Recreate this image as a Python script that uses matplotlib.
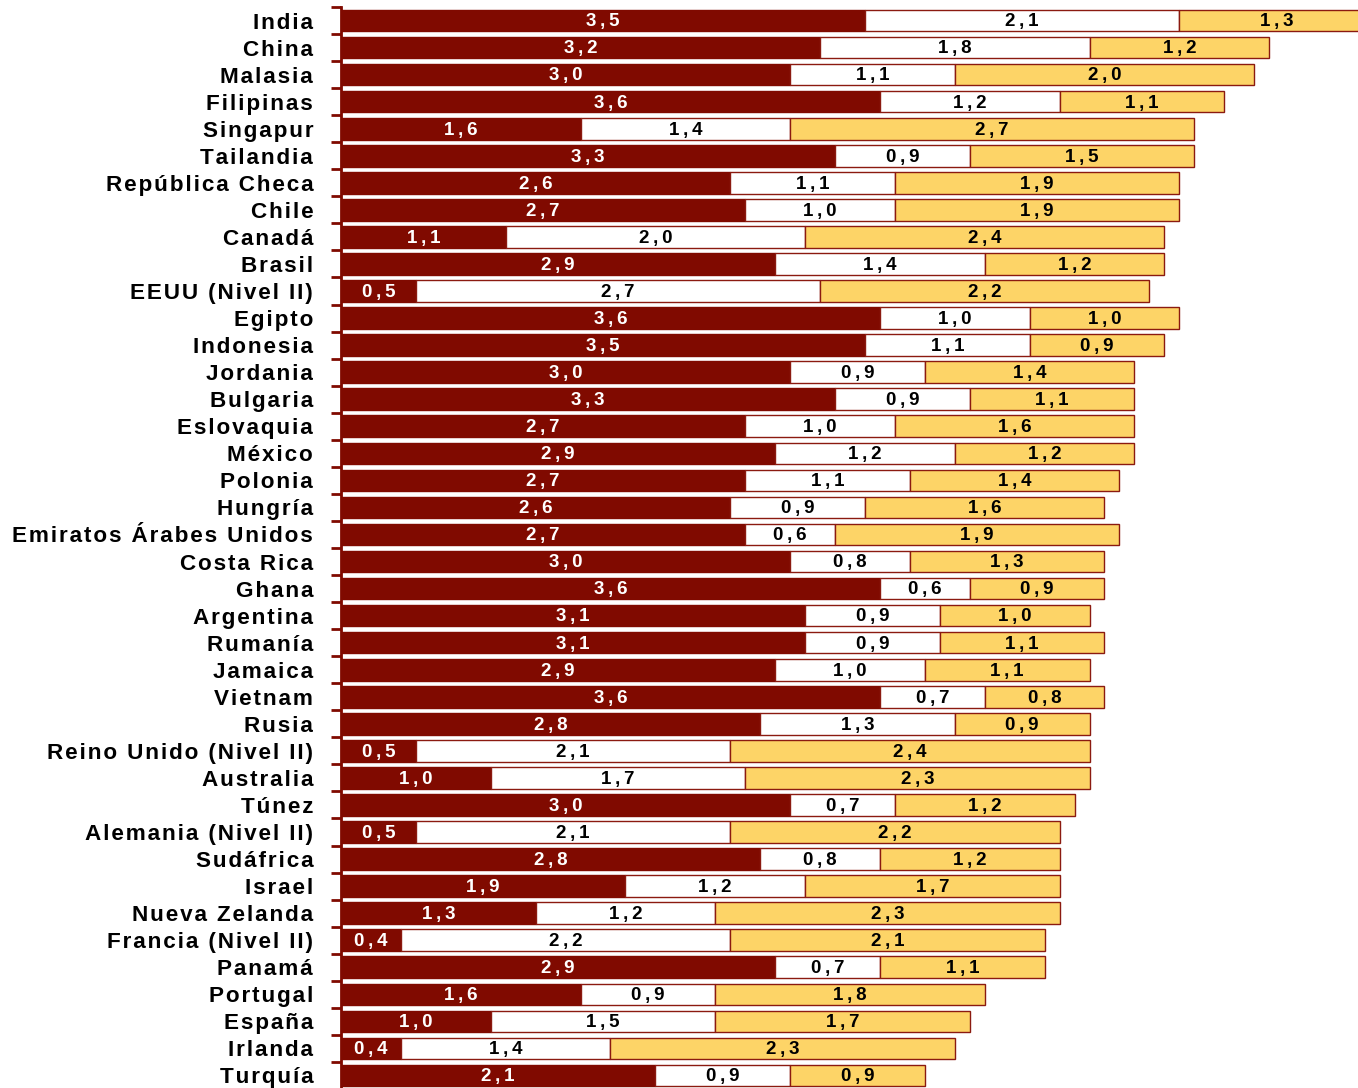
import numpy as np
import matplotlib.pyplot as plt

paises = ['India', 'China', 'Malasia', 'Filipinas', 'Singapur', 'Tailandia',
          'República Checa', 'Chile', 'Canadá', 'Brasil', 'EEUU (Nivel II)',
          'Egipto', 'Indonesia', 'Jordania', 'Bulgaria', 'Eslovaquia', 'México',
          'Polonia', 'Hungría', 'Emiratos Árabes Unidos', 'Costa Rica', 'Ghana',
          'Argentina', 'Rumanía', 'Jamaica', 'Vietnam', 'Rusia',
          'Reino Unido (Nivel II)', 'Australia', 'Túnez', 'Alemania (Nivel II)',
          'Sudáfrica', 'Israel', 'Nueva Zelanda', 'Francia (Nivel II)', 'Panamá',
          'Portugal', 'España', 'Irlanda', 'Turquía']

rojo = [3.5, 3.2, 3.0, 3.6, 1.6, 3.3, 2.6, 2.7, 1.1, 2.9, 0.5, 3.6, 3.5, 3.0,
        3.3, 2.7, 2.9, 2.7, 2.6, 2.7, 3.0, 3.6, 3.1, 3.1, 2.9, 3.6, 2.8, 0.5,
        1.0, 3.0, 0.5, 2.8, 1.9, 1.3, 0.4, 2.9, 1.6, 1.0, 0.4, 2.1]
blanco = [2.1, 1.8, 1.1, 1.2, 1.4, 0.9, 1.1, 1.0, 2.0, 1.4, 2.7, 1.0, 1.1, 0.9,
          0.9, 1.0, 1.2, 1.1, 0.9, 0.6, 0.8, 0.6, 0.9, 0.9, 1.0, 0.7, 1.3, 2.1,
          1.7, 0.7, 2.1, 0.8, 1.2, 1.2, 2.2, 0.7, 0.9, 1.5, 1.4, 0.9]
amarillo = [1.3, 1.2, 2.0, 1.1, 2.7, 1.5, 1.9, 1.9, 2.4, 1.2, 2.2, 1.0, 0.9, 1.4,
            1.1, 1.6, 1.2, 1.4, 1.6, 1.9, 1.3, 0.9, 1.0, 1.1, 1.1, 0.8, 0.9, 2.4,
            2.3, 1.2, 2.2, 1.2, 1.7, 2.3, 2.1, 1.1, 1.8, 1.7, 2.3, 0.9]

ROJO = '#800a00'
AMARILLO = '#fdd467'
BORDE = '#8b1a10'
FUENTE = ['Liberation Sans', 'DejaVu Sans']


def espaciar(s, sep='\u200a'):
    # imita el espaciado entre letras del original
    return sep.join(list(s))


fig = plt.figure(figsize=(13.58, 10.88), dpi=100)
ax = fig.add_axes([341 / 1358, -1 / 1088, 1017 / 1358, 1082 / 1088])

y = np.arange(len(paises))
rojo = np.array(rojo)
blanco = np.array(blanco)
amarillo = np.array(amarillo)

h = 0.8
ax.barh(y, rojo, height=h, color=ROJO, edgecolor=ROJO, linewidth=1)
ax.barh(y, blanco, left=rojo, height=h, color='white', edgecolor=BORDE, linewidth=1)
ax.barh(y, amarillo, left=rojo + blanco, height=h, color=AMARILLO,
        edgecolor=BORDE, linewidth=1)

for i in range(len(paises)):
    segs = [(0, rojo[i], 'white'), (rojo[i], blanco[i], 'black'),
            (rojo[i] + blanco[i], amarillo[i], 'black')]
    for left, w, c in segs:
        txt = espaciar(f'{w:.1f}'.replace('.', ','), '\u2009')
        ax.text(left + w / 2, i + 0.05, txt, ha='center', va='center', color=c,
                fontsize=13.5, fontweight='bold', family=FUENTE)

ax.set_ylim(len(paises) - 0.5, -0.5)
ax.set_xlim(0, 1017 / 149.7)

ax.set_yticks(y)
ax.set_yticklabels([espaciar(p) for p in paises], fontsize=16.2,
                   fontweight='bold', family=FUENTE)
ax.tick_params(axis='y', which='major', length=0, pad=20)
ax.set_yticks(np.arange(len(paises) + 1) - 0.5, minor=True)
ax.tick_params(axis='y', which='minor', length=7, width=2, color=ROJO)
ax.set_xticks([])

for s in ['top', 'right', 'bottom']:
    ax.spines[s].set_visible(False)
ax.spines['left'].set_color(ROJO)
ax.spines['left'].set_linewidth(2)

fig.savefig('out.png', dpi=100)
